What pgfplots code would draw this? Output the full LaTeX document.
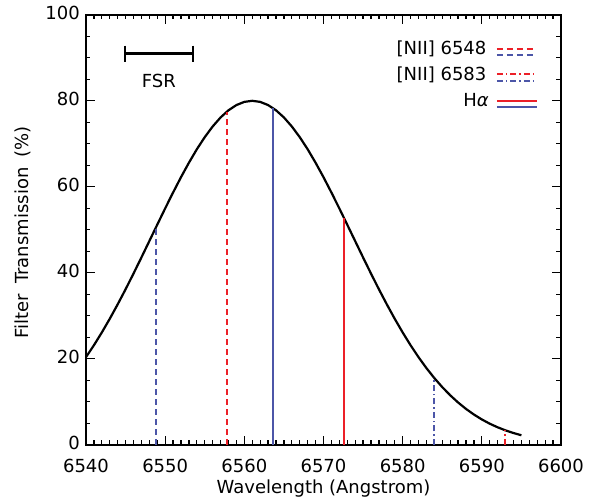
\documentclass[border=0pt]{standalone}
\usepackage{pgfplots}
\pgfplotsset{compat=1.18}
\usepackage{fontspec}
\setmainfont{DejaVu Sans}
\definecolor{cRed}{RGB}{236,32,40}
\definecolor{cBlue}{RGB}{76,86,168}
\begin{document}
\fontsize{18}{21}\selectfont
\begin{tikzpicture}[font=\fontsize{18}{21}\selectfont]
  \begin{axis}[
    scale only axis,
    width=475pt, height=430pt,
    xmin=6540, xmax=6600, ymin=0, ymax=100,
    xtick={6540,6550,...,6600},
    ytick={0,20,...,100},
    minor x tick num=9,
    minor y tick num=3,
    tick align=inside,
    major tick length=9pt,
    minor tick length=4.5pt,
    axis line style={line width=1.5pt},
    every tick/.style={black, line width=1.2pt},
    /pgf/number format/assume math mode=true,
    /pgf/number format/1000 sep={},
    tick label style={font=\fontsize{18}{21}\selectfont},
    label style={font=\fontsize{18}{21}\selectfont},
    xticklabel style={yshift=-8pt},
    yticklabel style={yshift=2pt},
    xlabel={Wavelength (Angstrom)},
    ylabel={Filter\hspace{0.25em} Transmission\hspace{0.25em} (\%)},
    xlabel style={at={(axis description cs:0.5,-0.102)}, anchor=center},
    ylabel style={at={(axis description cs:-0.133,0.494)}, anchor=center},
    clip=false,
  ]
  % filter profile
  \addplot[black, line width=2.2pt] coordinates {
    (6540,20.39) (6541,23.15) (6542,26.13) (6543,29.30) (6544,32.66)
    (6545,36.17) (6546,39.82) (6547,43.57) (6548,47.38) (6549,51.19)
    (6550,54.98) (6551,58.67) (6552,62.24) (6553,65.60) (6554,68.73)
    (6555,71.55) (6556,74.03) (6557,76.13) (6558,77.80) (6559,79.01)
    (6560,79.75) (6561,80.00) (6562,79.75) (6563,79.01) (6564,77.80)
    (6565,76.13) (6566,74.03) (6567,71.55) (6568,68.73) (6569,65.60)
    (6570,62.24) (6571,58.67) (6572,54.98) (6573,51.19) (6574,47.38)
    (6575,43.57) (6576,39.82) (6577,36.17) (6578,32.66) (6579,29.30)
    (6580,26.13) (6581,23.15) (6582,20.39) (6583,17.84) (6584,15.52)
    (6585,13.42) (6586,11.53) (6587,9.84) (6588,8.35) (6589,7.04)
    (6590,5.90) (6591,4.91) (6592,4.07) (6593,3.35) (6594,2.74)
    (6595,2.22)
  };
  % emission lines
  \addplot[cBlue, line width=2pt, dash pattern=on 6pt off 4pt] coordinates {(6548.9,0) (6548.9,50.8)};
  \addplot[cRed, line width=2pt, dash pattern=on 6pt off 4pt] coordinates {(6557.8,0) (6557.8,77.5)};
  \addplot[cBlue, line width=2pt] coordinates {(6563.6,0) (6563.6,78.3)};
  \addplot[cRed, line width=2pt] coordinates {(6572.6,0) (6572.6,52.7)};
  \addplot[cBlue, line width=2pt, dash pattern=on 6pt off 3pt on 1.5pt off 3pt] coordinates {(6583.9,0) (6583.9,15.7)};
  \addplot[cRed, line width=2pt, dash pattern=on 6pt off 3pt on 1.5pt off 3pt] coordinates {(6592.9,0) (6592.9,3.4)};
  % FSR bar
  \addplot[black, line width=2.4pt, mark=|, mark size=8pt, mark options={line width=2.4pt}] coordinates {(6544.9,91) (6553.5,91)};
  \node at (axis cs:6549.2,84.7) {FSR};
  % legend
  \node[anchor=east, inner sep=0pt] at (axis cs:6590.6,92.1) {[NII] 6548};
  \node[anchor=east, inner sep=0pt] at (axis cs:6590.6,86.1) {[NII] 6583};
  \node[anchor=east, inner sep=0pt] at (axis cs:6590.9,80.1) {H\textit{α}};
  \draw[cRed, line width=2pt, dash pattern=on 6pt off 4pt] (axis cs:6591.9,92.0) -- (axis cs:6596.6,92.0);
  \draw[cBlue, line width=2pt, dash pattern=on 6pt off 4pt] (axis cs:6591.9,90.7) -- (axis cs:6596.6,90.7);
  \draw[cRed, line width=2pt, dash pattern=on 6pt off 3pt on 1.5pt off 3pt] (axis cs:6591.9,86.2) -- (axis cs:6597.0,86.2);
  \draw[cBlue, line width=2pt, dash pattern=on 6pt off 3pt on 1.5pt off 3pt] (axis cs:6591.9,84.6) -- (axis cs:6597.0,84.6);
  \draw[cRed, line width=2pt] (axis cs:6591.9,79.9) -- (axis cs:6597.0,79.9);
  \draw[cBlue, line width=2pt] (axis cs:6591.9,78.6) -- (axis cs:6597.0,78.6);
  \end{axis}
  \path[use as bounding box] (-86pt,-56pt) rectangle (509pt,444pt);
\end{tikzpicture}
\end{document}
